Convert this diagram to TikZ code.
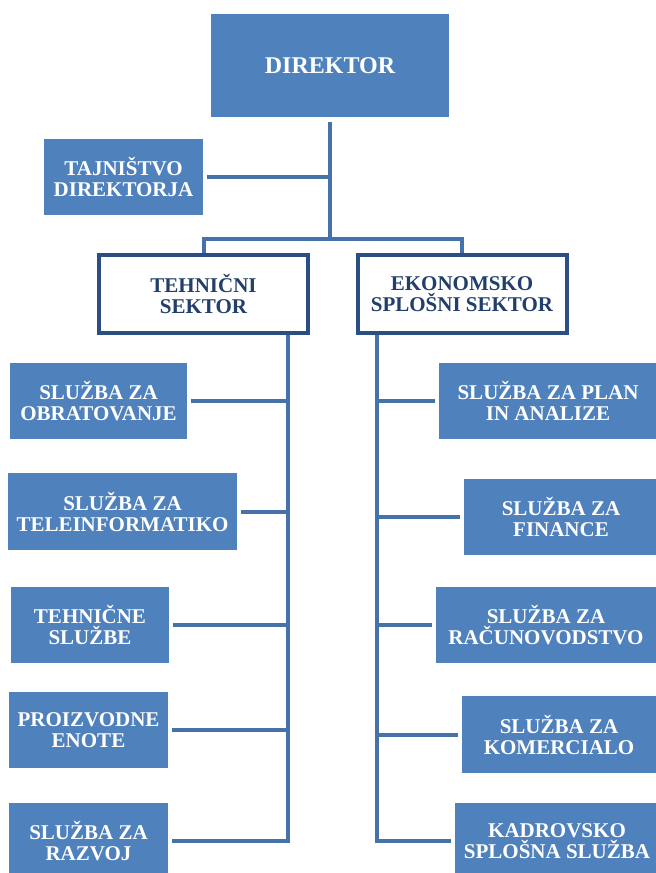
\documentclass[tikz,border=0pt]{standalone}
\usepackage{fontspec}
\setmainfont{Liberation Serif}
\usepackage{tikz}
\usetikzlibrary{positioning}

\definecolor{unitblue}{HTML}{4F81BD}
\definecolor{lineblue}{HTML}{4672AA}
\definecolor{sectorblue}{HTML}{2B4F82}
\definecolor{sectortext}{HTML}{223F6C}

\begin{document}
\begin{tikzpicture}[x=1pt,y=-1pt,
    unit/.style={rectangle, fill=unitblue, text=white, inner sep=0pt,
        align=center, minimum height=76pt,
        font=\bfseries\fontsize{21}{21}\selectfont},
    sector/.style={rectangle, draw=sectorblue, line width=4pt, fill=white,
        text=sectortext, inner sep=0pt, align=center,
        minimum width=209pt, minimum height=78pt,
        font=\bfseries\fontsize{21}{21}\selectfont},
    link/.style={draw=lineblue, line width=4pt}]

    \useasboundingbox (0,0) rectangle (656,873);

    % top
    \node[unit, minimum width=238pt, minimum height=103pt,
        font=\bfseries\fontsize{24}{24}\selectfont] (dir) at (330,65.5) {DIREKTOR};
    \node[unit, minimum width=159pt] (tajn) at (123.5,177) {TAJNIŠTVO\\DIREKTORJA};

    % sectors
    \node[sector] (teh) at (203.5,294) {TEHNIČNI\\SEKTOR};
    \node[sector] (eko) at (462,294) {EKONOMSKO\\SPLOŠNI SEKTOR};

    % tehnicni sektor
    \node[unit, minimum width=177pt] (obr) at (98.5,401) {SLUŽBA ZA\\OBRATOVANJE};
    \node[unit, minimum width=229pt, minimum height=77pt] (tel) at (122.5,511.5) {SLUŽBA ZA\\TELEINFORMATIKO};
    \node[unit, minimum width=158pt] (tsl) at (90,625) {TEHNIČNE\\SLUŽBE};
    \node[unit, minimum width=159pt] (pro) at (88.5,730) {PROIZVODNE\\ENOTE};
    \node[unit, minimum width=159pt] (raz) at (88.5,841) {SLUŽBA ZA\\RAZVOJ};

    % ekonomsko splosni sektor
    \node[unit, minimum width=218pt] (pla) at (548,401) {SLUŽBA ZA PLAN\\IN ANALIZE};
    \node[unit, minimum width=194pt] (fin) at (561,517) {SLUŽBA ZA\\FINANCE};
    \node[unit, minimum width=220pt] (rac) at (546,625) {SLUŽBA ZA\\RAČUNOVODSTVO};
    \node[unit, minimum width=194pt, minimum height=77pt] (kom) at (559,734.5) {SLUŽBA ZA\\KOMERCIALO};
    \node[unit, minimum width=204pt] (kad) at (557,841) {KADROVSKO\\SPLOŠNA SLUŽBA};

    \coordinate (bus) at (330,239);
    \coordinate (tl) at (288,842);
    \coordinate (tr) at (377,842);

    \draw[link] ([yshift=-5pt]dir.south) -- (bus);
    \draw[link] ([xshift=4pt]tajn.east) -- (tajn.east -| bus);
    \draw[link] (teh.north) -- (teh.north |- bus) -- (eko.north |- bus) -- (eko.north);

    \draw[link] (teh.south -| tl) -- (tl |- raz.east) -- ([xshift=4pt]raz.east);
    \foreach \u in {obr,tel,tsl,pro}
        \draw[link] ([xshift=4pt]\u.east) -- (\u.east -| tl);

    \draw[link] (eko.south -| tr) -- (tr |- kad.west) -- ([xshift=-4pt]kad.west);
    \foreach \u in {pla,fin,rac,kom}
        \draw[link] ([xshift=-4pt]\u.west) -- (\u.west -| tr);

\end{tikzpicture}
\end{document}
